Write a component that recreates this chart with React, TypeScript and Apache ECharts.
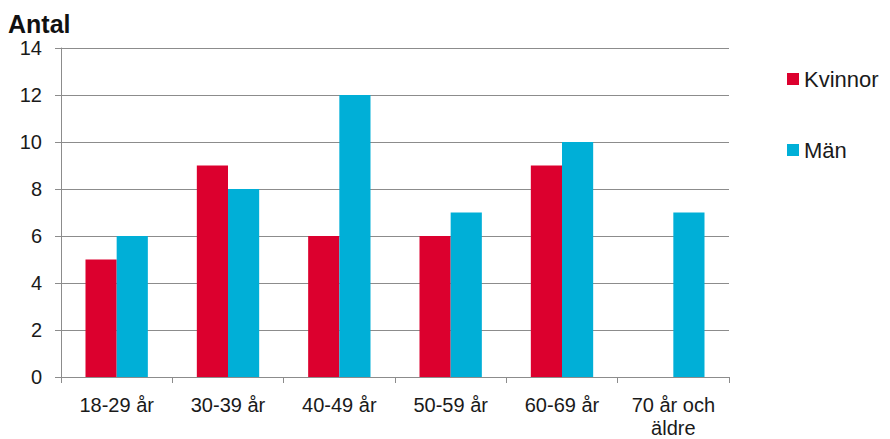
import React, { useEffect, useRef } from "react";
import * as echarts from "echarts";

const categories = ["18-29 år", "30-39 år", "40-49 år", "50-59 år", "60-69 år", "70 år och\näldre"];
const kvinnor = [5, 9, 6, 6, 9, 0];
const man = [6, 8, 12, 7, 10, 7];
const yTicks = { min: 0, max: 14, interval: 2 };

export default function App() {
  const ref = useRef<HTMLDivElement>(null);
  useEffect(() => {
    if (!ref.current) return;
    const chart = echarts.init(ref.current, null, { renderer: "svg" });
    const font = "'Liberation Sans', Arial, sans-serif";
    chart.setOption({
      animation: false,
      backgroundColor: "#ffffff",
      textStyle: { fontFamily: font },
      title: {
        text: "Antal",
        left: 8,
        top: 11,
        padding: 0,
        textStyle: { fontFamily: font, fontSize: 25, fontWeight: "bold", color: "#111", lineHeight: 25 },
      },
      legend: {
        orient: "vertical",
        left: 787,
        top: 68,
        padding: 0,
        itemWidth: 12,
        itemHeight: 12,
        itemGap: 49,
        icon: "rect",
        textStyle: { fontFamily: font, fontSize: 22, color: "#1a1a1a" },
        data: ["Kvinnor", "Män"],
      },
      grid: { left: 61, right: 161, top: 48, bottom: 57, containLabel: false },
      xAxis: {
        type: "category",
        data: categories,
        axisLine: { lineStyle: { color: "#8c8c8c", width: 1 } },
        axisTick: { show: true, length: 6, lineStyle: { color: "#8c8c8c" } },
        axisLabel: { fontFamily: font, fontSize: 20, color: "#1a1a1a", margin: 16, lineHeight: 23, interval: 0 },
      },
      yAxis: {
        type: "value",
        min: yTicks.min,
        max: yTicks.max,
        interval: yTicks.interval,
        axisLine: { show: true, lineStyle: { color: "#8c8c8c", width: 1 } },
        axisTick: { show: true, length: 6, lineStyle: { color: "#8c8c8c" } },
        axisLabel: { fontFamily: font, fontSize: 20, color: "#1a1a1a", margin: 19, lineHeight: 20 },
        splitLine: { show: true, lineStyle: { color: "#8c8c8c", width: 1 } },
      },
      series: [
        {
          name: "Kvinnor",
          type: "bar",
          data: kvinnor,
          itemStyle: { color: "#DC002E" },
          barGap: "0%",
          barCategoryGap: "44%",
        },
        {
          name: "Män",
          type: "bar",
          data: man,
          itemStyle: { color: "#00AFD7" },
          barGap: "0%",
          barCategoryGap: "44%",
        },
      ],
    });
    return () => chart.dispose();
  }, []);
  return (
    <div style={{ position: "fixed", left: 0, top: 0, width: 890, height: 439 }}>
      <div ref={ref} style={{ width: 890, height: 439 }} />
    </div>
  );
}
